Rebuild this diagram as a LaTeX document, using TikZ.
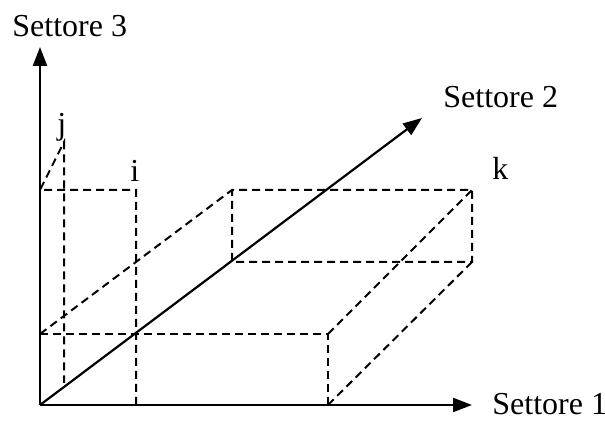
\documentclass[tikz,border=0pt]{standalone}
\usepackage{fontspec}
\setmainfont{Liberation Serif}
\usetikzlibrary{arrows.meta}
\tikzset{asse/.style={line width=1.1pt,-{Triangle[length=9.5pt,width=7pt]}},
  tratt/.style={line width=1pt,dash pattern=on 4pt off 2.5pt}}

\begin{document}
\begin{tikzpicture}[x=0.5pt,y=0.5pt,font=\fontsize{16}{19}\selectfont]
\useasboundingbox(0,0)rectangle(605,421);
\coordinate(O)at(40,16);\coordinate(X)at(472,16);\coordinate(Z)at(40,374);\coordinate(Y)at(422,303);
% front face
\coordinate(Ft)at(40,87);\coordinate(Fr)at(328,87);\coordinate(Fb)at(328,16);
% back face
\coordinate(Bl)at(232,231);\coordinate(Br)at(472,231);\coordinate(Bd)at(472,159);\coordinate(Bm)at(232,159);
% i and j
\coordinate(Ib)at(136,16);\coordinate(It)at(136,231);\coordinate(Il)at(40,231);
\coordinate(Jt)at(64,279);\coordinate(Jb)at(64,38);
\draw[tratt](Ft)--(Fr)--(Fb);\draw[tratt](Ft)--(Bl)--(Br)--(Bd)--(Bm)--(Bl);
\draw[tratt](Fr)--(Br);\draw[tratt](Fb)--(Bd);
\draw[tratt](Ib)--(It)--(Il)--(Jt)--(Jb);
\draw[asse](O)--(X);\draw[asse](O)--(Z);\draw[asse](O)--(Y);
\node[anchor=base west,inner sep=0](s1)at(492,6){Settore 1};
\node[anchor=base west,inner sep=0](s2)at(443,313){Settore 2};
\node[anchor=base west,inner sep=0](s3)at(12,384){Settore 3};
\node[anchor=base west,inner sep=0](li)at(130,239){i};
\node[anchor=base west,inner sep=0](lj)at(57,286){j};
\node[anchor=base west,inner sep=0](lk)at(492,241){k};
\end{tikzpicture}
\end{document}
